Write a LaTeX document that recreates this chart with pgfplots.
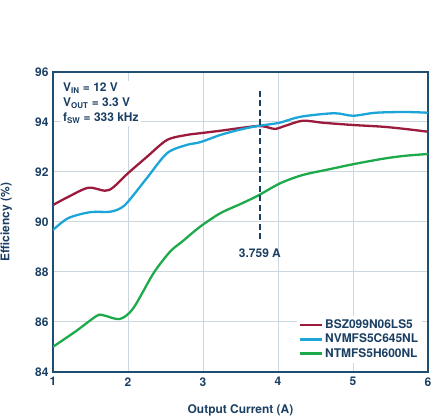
\documentclass[border=0pt]{standalone}
\usepackage{fontspec}
\setmainfont{TeX Gyre Heros}
\usepackage{pgfplots}
\pgfplotsset{compat=1.18}

\definecolor{navy}{HTML}{1B3F63}
\definecolor{frame}{HTML}{1D4F72}
\definecolor{gridc}{HTML}{CCD6DE}
\definecolor{cred}{HTML}{9B1B3C}
\definecolor{cblue}{HTML}{1BA5D8}
\definecolor{cgreen}{HTML}{1DAA4A}

\begin{document}
\begin{tikzpicture}
\begin{axis}[
  scale only axis,
  width=375bp, height=300bp,
  xmin=1, xmax=6, ymin=84, ymax=96,
  xtick={1,...,6}, ytick={84,86,...,96},
  major tick length=0pt,
  grid=major,
  major grid style={gridc, line width=1bp},
  axis line style={frame, line width=1.2bp},
  font=\fontsize{12}{14}\selectfont\bfseries,
  /pgf/number format/assume math mode=true,
  ticklabel style={text=navy, font=\fontsize{12}{14}\selectfont\bfseries},
  xticklabel style={yshift=-2bp},
  yticklabel style={xshift=-1bp},
  xlabel={Output Current (A)},
  ylabel={Efficiency (\%)},
  label style={text=navy},
  xlabel style={at={(axis description cs:0.5,-0.127)}, anchor=center},
  ylabel style={at={(axis description cs:-0.125,0.5)}, anchor=center},
  legend style={at={(rel axis cs:0.985,0.03)}, anchor=south east,
    draw=none, fill=white, text=navy, inner sep=2bp,
    font=\fontsize{12}{14}\selectfont\bfseries,
    row sep=0bp},
  legend cell align=left,
  legend image code/.code={\draw[#1, line width=2.5bp] (-4bp,0bp) -- (18bp,0bp);},
  every axis plot/.append style={line width=2.3bp, smooth, tension=0.5},
]
\addplot[cred] coordinates {
(1,90.68) (1.2,91.0) (1.47,91.37) (1.69,91.25) (1.8,91.38) (2.0,91.95)
(2.25,92.6) (2.52,93.28) (2.78,93.48) (2.96,93.55) (3.23,93.65) (3.5,93.76)
(3.73,93.84) (3.85,93.8) (3.96,93.72) (4.1,93.85) (4.33,94.05) (4.6,93.97)
(5.0,93.88) (5.4,93.81) (5.7,93.72) (6,93.61)};
\addlegendentry{BSZ099N06LS5}
\addplot[cblue] coordinates {
(1,89.68) (1.2,90.15) (1.49,90.39) (1.76,90.41) (1.9,90.55) (2.0,90.81)
(2.25,91.75) (2.52,92.75) (2.78,93.08) (2.96,93.19) (3.23,93.48) (3.5,93.7)
(3.73,93.84) (4.02,93.97) (4.3,94.21) (4.75,94.35) (5.0,94.25) (5.3,94.37)
(5.7,94.4) (6,94.37)};
\addlegendentry{NVMFS5C645NL}
\addplot[cgreen] coordinates {
(1,85.01) (1.3,85.62) (1.58,86.24) (1.67,86.27) (1.89,86.12) (2.07,86.55)
(2.34,87.95) (2.56,88.81) (2.72,89.21) (2.96,89.81) (3.23,90.35) (3.5,90.72)
(3.73,91.05) (4.03,91.55) (4.33,91.88) (4.7,92.12) (5.0,92.31) (5.4,92.53)
(5.7,92.65) (6,92.72)};
\addlegendentry{NTMFS5H600NL}
\addplot[navy, line width=1.3bp, dash pattern=on 6bp off 3.5bp, sharp plot, forget plot]
  coordinates {(3.759,95.24) (3.759,89.2)};
\node[text=navy, font=\fontsize{12}{14}\selectfont\bfseries] at (axis cs:3.759,88.76) {3.759 A};
\node[anchor=north west, fill=white, text=navy, align=left, inner sep=2bp,
  font=\fontsize{12}{15}\selectfont\bfseries]
  at ([xshift=8bp,yshift=-9bp]rel axis cs:0,1)
  {V\textsubscript{IN} = 12 V\\V\textsubscript{OUT} = 3.3 V\\f\textsubscript{SW} = 333 kHz};
\end{axis}
\pgfresetboundingbox
\useasboundingbox (-53bp,-47bp) rectangle (379bp,372bp);
\end{tikzpicture}
\end{document}
